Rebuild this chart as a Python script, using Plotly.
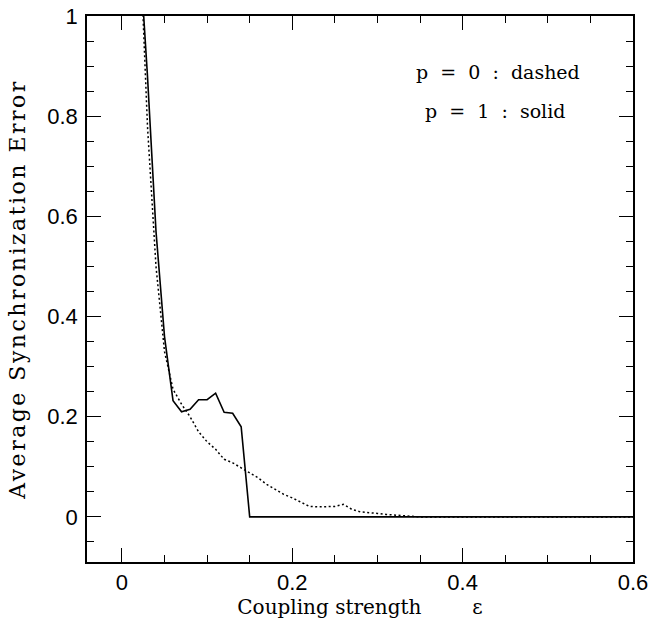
import plotly.graph_objects as go

# p = 1 (solid)
x_solid = [0.02, 0.03, 0.04, 0.05, 0.06, 0.07, 0.08, 0.09, 0.10, 0.11, 0.12, 0.13, 0.14, 0.15, 0.20, 0.30, 0.40, 0.50, 0.60]
y_solid = [1.15, 0.88, 0.57, 0.36, 0.232, 0.21, 0.215, 0.234, 0.234, 0.247, 0.209, 0.207, 0.18, 0.0, 0.0, 0.0, 0.0, 0.0, 0.0]

# p = 0 (dashed)
x_dashed = [0.02, 0.03, 0.04, 0.05, 0.06, 0.07, 0.08, 0.09, 0.10, 0.11, 0.12, 0.13, 0.14, 0.15,
            0.16, 0.17, 0.18, 0.19, 0.20, 0.21, 0.22, 0.23, 0.24, 0.25, 0.26, 0.27, 0.28, 0.29,
            0.30, 0.31, 0.32, 0.33, 0.34, 0.35, 0.40, 0.50, 0.60]
y_dashed = [1.2, 0.78, 0.5, 0.33, 0.255, 0.225, 0.2, 0.17, 0.15, 0.135, 0.115, 0.108, 0.098, 0.088,
            0.078, 0.065, 0.055, 0.045, 0.038, 0.029, 0.021, 0.02, 0.02, 0.021, 0.025, 0.015, 0.01, 0.009,
            0.007, 0.005, 0.004, 0.003, 0.001, 0.0, 0.0, 0.0, 0.0]

nb = "\u00a0"
labels = [f"p{nb}={nb}0{nb}:{nb}dashed".replace(nb, nb * 2), f"p{nb}={nb}1{nb}:{nb}solid".replace(nb, nb * 2)]

fig = go.Figure()
fig.add_trace(go.Scatter(x=x_dashed, y=y_dashed, mode="lines",
                         line=dict(color="black", width=1.5, dash="2px,2.5px")))
fig.add_trace(go.Scatter(x=x_solid, y=y_solid, mode="lines",
                         line=dict(color="black", width=1.6)))

serif = "DejaVu Serif"
sans = "Liberation Sans"

axis_common = dict(showline=True, linecolor="black", linewidth=1.6, mirror="allticks",
                   ticks="inside", tickcolor="black", tickwidth=1.3, ticklen=14,
                   showgrid=False, zeroline=False, automargin=False,
                   tickfont=dict(family=sans, size=22, color="black"))

fig.update_xaxes(range=[-0.041, 0.6], dtick=0.2, tick0=0,
                 minor=dict(dtick=0.05, ticks="inside", ticklen=7, tickwidth=1.2, tickcolor="black"),
                 title=dict(text="Coupling strength" + nb * 8 + "\u03b5" + nb * 6,
                            font=dict(family=serif, size=20, color="black"), standoff=4),
                 **axis_common)
fig.update_yaxes(range=[-0.09, 1.0], dtick=0.2, tick0=0, ticklabelstandoff=3,
                 minor=dict(dtick=0.05, ticks="inside", ticklen=7, tickwidth=1.2, tickcolor="black"),
                 title=dict(text='<span style="letter-spacing:2.5px">Average Synchronization Error</span>',
                            font=dict(family=serif, size=22, color="black"), standoff=16),
                 **axis_common)

fig.add_annotation(x=0.442, y=0.888, xref="x", yref="y", text=labels[0], showarrow=False,
                   font=dict(family=serif, size=19, color="black"))
fig.add_annotation(x=0.438, y=0.81, xref="x", yref="y", text=labels[1], showarrow=False,
                   font=dict(family=serif, size=19, color="black"))

fig.update_layout(width=649, height=622, showlegend=False,
                  margin=dict(l=87, r=16, t=16, b=60),
                  plot_bgcolor="white", paper_bgcolor="white")

fig.write_html("out.html")
